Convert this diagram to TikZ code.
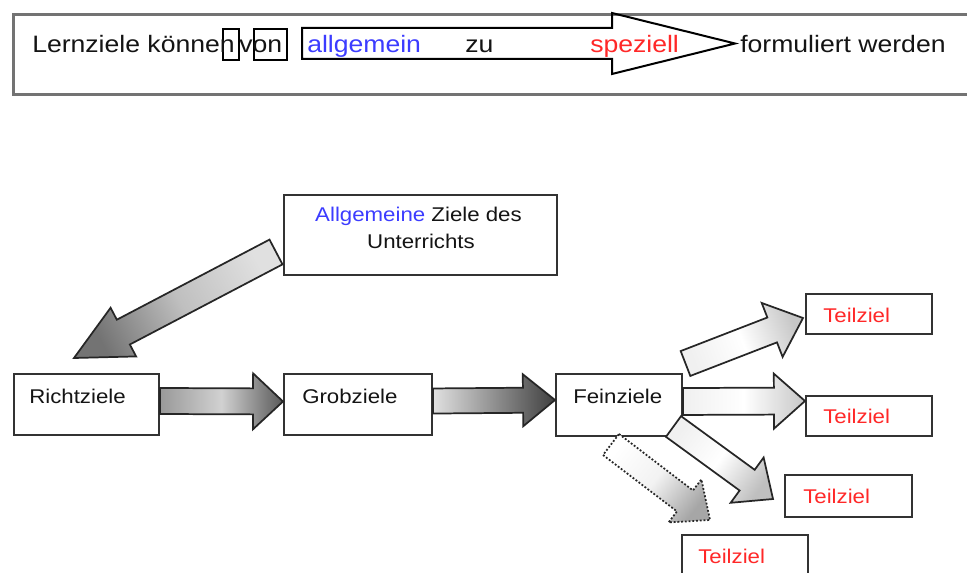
\documentclass[tikz,border=0pt]{standalone}
\usepackage{fontspec}
\setmainfont[FakeStretch=1.12]{Liberation Sans}
\usetikzlibrary{calc}
\definecolor{txtblue}{RGB}{60,60,255}
\definecolor{txtred}{RGB}{255,40,40}
\definecolor{txtdark}{RGB}{20,20,20}
\tikzset{
  boxnode/.style={draw=black!80, line width=1.5pt, rectangle, inner sep=0pt, anchor=north west, fill=white},
  framenode/.style={draw=black!55, line width=2.3pt, rectangle, inner sep=0pt, anchor=north west},
  markbox/.style={draw=black, line width=1.4pt, rectangle, inner sep=0pt, anchor=north west},
  toptxt/.style={anchor=base west, inner sep=0pt, text=txtdark, font=\fontsize{17.8}{20}\selectfont},
  lowtxt/.style={anchor=base west, inner sep=0pt, text=txtdark, font=\fontsize{14.9}{18}\selectfont},
  redtxt/.style={lowtxt, text=txtred},
  fatline/.style={draw=black!85, line width=1.3pt, line join=miter},
}
% box from (x1,y1) to (x2,y2) in pixel units
\newcommand\mkbox[6]{\node[#6, minimum width={(#4-#2)*0.75pt}, minimum height={(#5-#3)*0.75pt}] (#1) at (#2,#3) {};}
% fat block arrow: start, end, shaft half width, head half width, head length, style
\newcommand\fatarrow[6]{%
  \coordinate (fatS) at (#1);
  \coordinate (fatE) at (#2);
  \coordinate (fatH) at ($(fatE)!#5!(fatS)$);
  \path[#6] ($(fatS)!#3!90:(fatE)$) -- ($(fatH)!#3!90:(fatE)$) -- ($(fatH)!#4!90:(fatE)$)
    -- (fatE) -- ($(fatH)!#4!-90:(fatE)$) -- ($(fatH)!#3!-90:(fatE)$) -- ($(fatS)!#3!-90:(fatE)$) -- cycle;
}
\begin{document}
\begin{tikzpicture}[x=0.75pt, y=-0.75pt]
\useasboundingbox (0,0) rectangle (967,573);
\clip (0,0) rectangle (967,573);
\fill[white] (0,0) rectangle (967,573);

% ---------- top frame ----------
\mkbox{frame}{12}{13}{985}{93}{framenode}
\mkbox{mkn}{222}{28}{238}{59}{markbox}
\mkbox{mkon}{253}{28}{286}{59}{markbox}
\coordinate (tas) at (302,43.5);
\coordinate (tae) at (735,43.5);
\draw[line width=1.5pt, line join=miter] ($(tas)+(0,-15.5)$) -- (612,28) -- (612,13) -- (tae) -- (612,74) -- (612,59) -- ($(tas)+(0,15.5)$) -- cycle;

\node[toptxt] (t-lern) at (32,53) {Lernziele können};
\node[toptxt] (t-von) at (239,53) {von};
\node[toptxt, text=txtblue] (t-allg) at (307,53) {allgemein};
\node[toptxt] (t-zu) at (465,53) {zu};
\node[toptxt, text=txtred] (t-spez) at (590,53) {speziell};
\node[toptxt] (t-form) at (740,53) {formuliert werden};

% ---------- boxes ----------
\mkbox{allg}{283}{194}{556}{274}{boxnode}
\mkbox{richt}{13}{373}{158}{434}{boxnode}
\mkbox{grob}{283}{373}{431}{434}{boxnode}
\mkbox{fein}{555}{373}{681}{435}{boxnode}
\mkbox{tz1}{805}{293}{931}{333}{boxnode}
\mkbox{tz2}{805}{395}{931}{435}{boxnode}
\mkbox{tz3}{784}{474}{911}{516}{boxnode}
\mkbox{tz4}{681}{534}{807}{600}{boxnode}

% ---------- fat arrows ----------
\coordinate (a1s) at ($(allg.west)+(-7,17)$);
\coordinate (a1e) at ($(richt.north)+(-12.5,-15)$);
\fatarrow{a1s}{a1e}{10.5pt}{20.6pt}{41.8pt}{fatline, top color=black!55, bottom color=black!12, middle color=black!25, shading angle=117.8}

\coordinate (a2s) at ($(richt.east)+(0,-3.5)$);
\coordinate (a2e) at ($(grob.west)+(0,-3)$);
\fatarrow{a2s}{a2e}{9.75pt}{21pt}{22.5pt}{fatline, top color=black!65, bottom color=black!40, middle color=black!18, shading angle=-90}

\coordinate (a3s) at ($(grob.east)+(0,-3.5)$);
\coordinate (a3e) at ($(fein.west)+(0,-5)$);
\fatarrow{a3s}{a3e}{9.4pt}{19.5pt}{24pt}{fatline, top color=black!75, bottom color=black!12, shading angle=-90}

\coordinate (a4s) at ($(fein.north east)+(2.5,-9.5)$);
\coordinate (a4e) at ($(tz1.west)+(-2,4)$);
\fatarrow{a4s}{a4e}{10pt}{21.7pt}{24.8pt}{fatline, top color=black!22, bottom color=black!6, middle color=white, shading angle=-68.7}

\coordinate (a5s) at ($(fein.east)+(0,-3.5)$);
\coordinate (a5e) at ($(tz2.west)+(0,-15)$);
\fatarrow{a5s}{a5e}{10.1pt}{20.6pt}{23.3pt}{fatline, top color=black!22, bottom color=black!6, middle color=white, shading angle=-90}

\coordinate (a6s) at ($(fein.south)+(-8,7.5)$);
\coordinate (a6e) at ($(tz4.north)+(-35,-14)$);
\fatarrow{a6s}{a6e}{9.9pt}{20.3pt}{23.6pt}{draw=black!85, line width=1.3pt, dash pattern=on 1.4pt off 1.4pt, top color=black!35, bottom color=white, middle color=black!5, shading angle=-128}

\coordinate (a7s) at ($(fein.south east)+(-9.5,-10.5)$);
\coordinate (a7e) at ($(tz3.west)+(-11,3)$);
\fatarrow{a7s}{a7e}{9.6pt}{21pt}{24pt}{fatline, top color=black!25, bottom color=black!6, middle color=white, shading angle=-125.9}

% ---------- texts ----------
\node[lowtxt, anchor=base] (l-allg1) at (418.5,222) {\textcolor{txtblue}{Allgemeine} Ziele des};
\node[lowtxt, anchor=base] (l-allg2) at (421,249) {Unterrichts};
\node[lowtxt] (l-richt) at (29,403) {Richtziele};
\node[lowtxt] (l-grob) at (302,403) {Grobziele};
\node[lowtxt] (l-fein) at (573,403) {Feinziele};
\node[redtxt] (l-t1) at (823,323) {Teilziel};
\node[redtxt] (l-t2) at (823,423) {Teilziel};
\node[redtxt] (l-t3) at (803,503) {Teilziel};
\node[redtxt] (l-t4) at (698,563) {Teilziel};
\end{tikzpicture}
\end{document}
